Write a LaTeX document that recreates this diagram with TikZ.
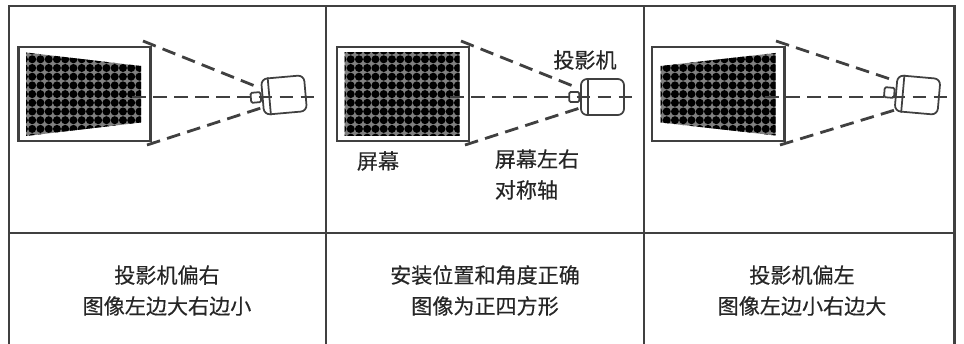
\documentclass[tikz,border=0pt]{standalone}
\usepackage{fontspec}
\usetikzlibrary{calc}
\setmainfont[FakeBold=0.35]{Noto Sans CJK SC}
\definecolor{linegray}{HTML}{404040}
\begin{document}
\begin{tikzpicture}[x=0.02cm, y=-0.02cm,
  framenode/.style={draw=none, font=\fontsize{12}{17.6}\selectfont, text=black!85, align=center, inner sep=0pt},
  screennode/.style={draw=linegray, line width=1.7pt, minimum width=132*0.02cm, minimum height=94*0.02cm, inner sep=0pt},
  bodynode/.style={draw=linegray, line width=1pt, rounded corners=3.5pt, minimum width=43*0.02cm, minimum height=36*0.02cm, inner sep=0pt},
  lensnode/.style={draw=linegray, line width=1pt, rounded corners=0.8pt, minimum width=10*0.02cm, minimum height=10*0.02cm, inner sep=0pt},
  dashline/.style={draw=linegray, line width=1.6pt, dash pattern=on 7.8pt off 4.2pt}]
\useasboundingbox (0,0) rectangle (964,344);
\draw[linegray, line width=1.7pt] (9,344) -- (9,6) -- (954,6) -- (954,344);
\draw[linegray, line width=1.7pt] (9,233) -- (954,233);
\draw[linegray, line width=1.7pt] (326,6) -- (326,344);
\draw[linegray, line width=1.7pt] (644,6) -- (644,344);
\foreach \dx/\ya/\yb in {0/52.5/66, 318.5/53/53, 634.5/66/53} {
  \pgfmathsetmacro{\yc}{188.5-\ya}
  \pgfmathsetmacro{\yd}{188.5-\yb}
  \begin{scope}[shift={(\dx,0)}]
    \clip (26,\ya) -- (141,\yb) -- (141,\yd) -- (26,\yc) -- cycle;
    \fill[black!50] (20,45) rectangle (145,145);
    \foreach \i in {-1,...,14} \foreach \j in {-1,...,10}
      \fill[black] (32.2+8.25*\i,59.3+8.7*\j) circle[radius=4];
  \end{scope}
}
\node[screennode] (S1) at (84.5,94) {};
\node[screennode] (S2) at (403,94) {};
\node[screennode] (S3) at (718,94) {};
\node[bodynode, rotate=5] (P1) at (284,95) {};
\node[bodynode] (P2) at (602.5,97) {};
\node[bodynode, rotate=-5] (P3) at (917.5,95) {};
\node[lensnode, rotate=5, anchor=east] (L1) at (P1.west) {};
\node[lensnode, anchor=east] (L2) at (P2.west) {};
\node[lensnode, rotate=-5, anchor=east] (L3) at (P3.west) {};
\foreach \n in {P1,P2,P3}
  \draw[linegray, line width=1pt] ($(\n.north west)!0.17!(\n.north east)$) -- ($(\n.south west)!0.17!(\n.south east)$);
\coordinate (T1) at (143,41);
\coordinate (B1) at (147,145);
\coordinate (C1) at (132,97);
\coordinate (E1) at (315,97);
\coordinate (A1) at (255,86);
\coordinate (D1) at (261,108);
\coordinate (T2) at (461,41);
\coordinate (B2) at (465,145);
\coordinate (C2) at (450,97);
\coordinate (E2) at (634,97);
\coordinate (A2) at (573,86);
\coordinate (D2) at (580,108);
\coordinate (T3) at (776,41);
\coordinate (B3) at (780,145);
\coordinate (C3) at (765,97);
\coordinate (E3) at (949,97);
\coordinate (A3) at (890,79);
\coordinate (D3) at (895,110);
\foreach \n in {1,2,3} {
  \draw[dashline] (T\n) -- (A\n);
  \draw[dashline] (B\n) -- (D\n);
  \draw[dashline] (C\n) -- (E\n);
}
\node[framenode] (N1) at (167,290.5) {投影机偏右\\图像左边大右边小};
\node[framenode] (N2) at (485,290.5) {安装位置和角度正确\\图像为正四方形};
\node[framenode] (N3) at (802,290.5) {投影机偏左\\图像左边小右边大};
\node[framenode] (N4) at (585,60) {投影机};
\node[framenode] (N5) at (378,161) {屏幕};
\node[framenode, align=left] (N6) at (537,174.5) {屏幕左右\\对称轴};
\end{tikzpicture}
\end{document}
